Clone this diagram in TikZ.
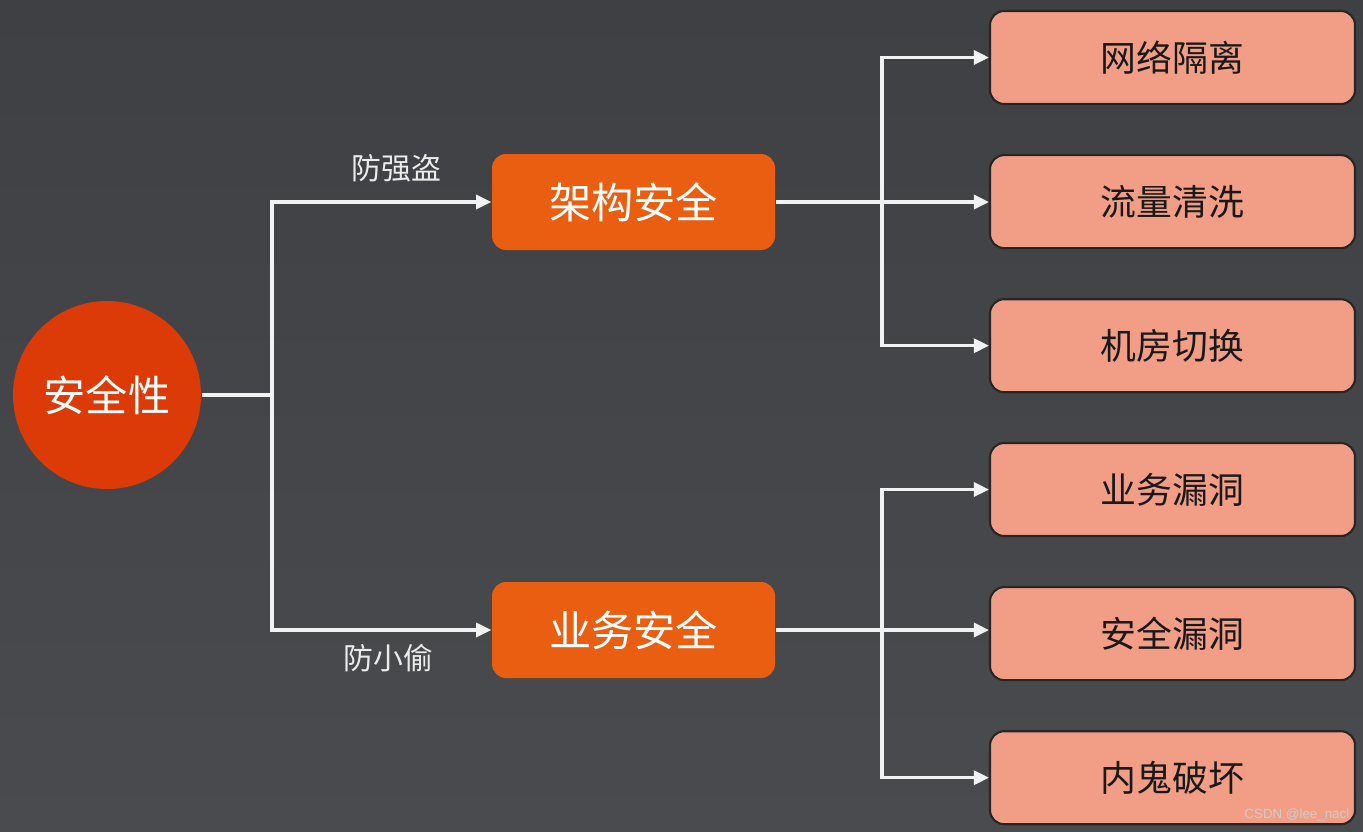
\documentclass[tikz,border=0pt]{standalone}
\usepackage{fontspec}
\usepackage{xcolor}
\usepackage{tikz}
\usetikzlibrary{arrows.meta,positioning}
\setmainfont{Noto Sans CJK SC}
\newfontfamily\markfont{Liberation Sans}

\definecolor{bgtop}{HTML}{3F4043}
\definecolor{bgbot}{HTML}{4A4B4E}
\definecolor{rootred}{HTML}{DC3A06}
\definecolor{midorange}{HTML}{E95E10}
\definecolor{leafpink}{HTML}{F29E86}
\definecolor{wire}{HTML}{F2F2F2}

\begin{document}
\begin{tikzpicture}[
        x=1cm, y=1cm,
        node distance=0.49cm and 2.15cm,
        root/.style={circle, fill=rootred, minimum size=1.88cm, inner sep=0pt, text=white, font=\fontsize{12pt}{14pt}\selectfont},
        branch/.style={rounded corners=4pt, fill=midorange, minimum width=2.83cm, minimum height=0.96cm, text=white, font=\fontsize{12pt}{14pt}\selectfont},
        leaf/.style={draw=black!85, line width=0.6pt, rounded corners=4pt, fill=leafpink, minimum width=3.65cm, minimum height=0.93cm, text=black!90, font=\fontsize{10.2pt}{12pt}\selectfont},
        tag/.style={text=white!92!black, font=\fontsize{8.5pt}{10pt}\selectfont},
        wireline/.style={draw=wire, line width=0.9pt},
        line/.style={wireline, -{Triangle[length=4.3pt,width=4pt]}}
    ]
        \shade[top color=bgtop, bottom color=bgbot] (0,0) rectangle (13.63,-8.31);
        \useasboundingbox (0,0) rectangle (13.63,-8.31);

        \node[root] (safety) at (1.07,-3.95) {安全性};
        \node[branch] (arch) at (6.335,-2.02) {架构安全};
        \node[branch] (biz) at (6.335,-6.30) {业务安全};

        \node[leaf] (net) at (11.725,-0.575) {网络隔离};
        \node[leaf, below=of net] (flow) {流量清洗};
        \node[leaf, below=of flow] (room) {机房切换};
        \node[leaf] (bug) at (11.725,-4.895) {业务漏洞};
        \node[leaf, below=of bug] (hole) {安全漏洞};
        \node[leaf, below=of hole] (mole) {内鬼破坏};

        \coordinate (split) at (2.72,-3.95);
        \coordinate (asplit) at (8.82,-2.02);
        \coordinate (bsplit) at (8.82,-6.30);

        \draw[wireline] (safety) -- (split);
        \draw[line] (split) |- node[tag, pos=0.784, above=2pt] {防强盗} (arch);
        \draw[line] (split) |- node[tag, pos=0.766, below=0.2pt] {防小偷} (biz);

        \draw[wireline] (arch) -- (asplit);
        \draw[line] (asplit) |- (net);
        \draw[line] (asplit) -- (flow.west |- asplit);
        \draw[line] (asplit) |- (room);

        \draw[wireline] (biz) -- (bsplit);
        \draw[line] (bsplit) |- (bug);
        \draw[line] (bsplit) -- (hole.west |- bsplit);
        \draw[line] (bsplit) |- (mole);

        \node[anchor=south east, text=white!80!black, font=\markfont\fontsize{3.8pt}{4.5pt}\selectfont, inner sep=0pt] (mark) at (13.50,-8.22) {CSDN @lee\_nacl};
    \end{tikzpicture}
\end{document}
